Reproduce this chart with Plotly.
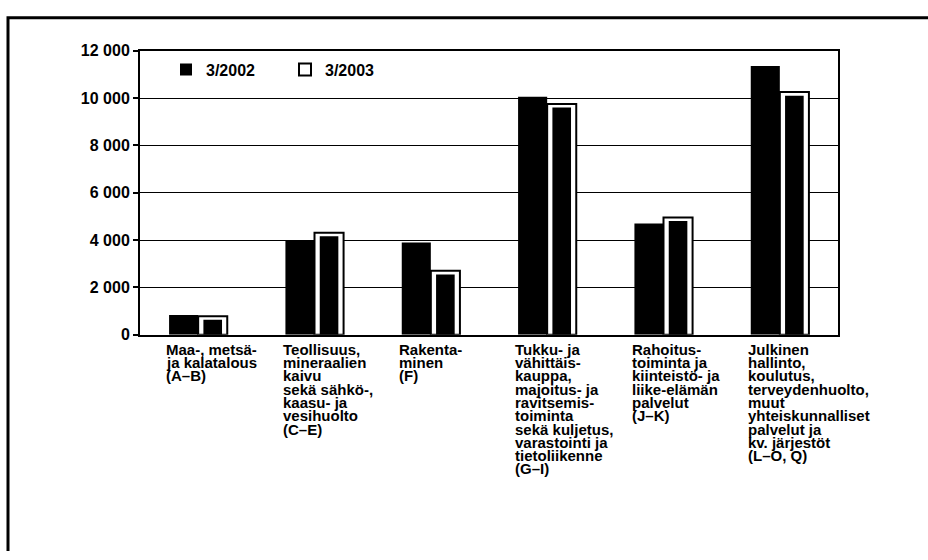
import plotly.graph_objects as go

# ---- data ----
categories = ["A–B", "C–E", "F", "G–I", "J–K", "L–O, Q"]
category_labels = [
    ["Maa-, metsä-", "ja kalatalous", "(A–B)"],
    ["Teollisuus,", "mineraalien", "kaivu", "sekä sähkö-,", "kaasu- ja", "vesihuolto", "(C–E)"],
    ["Rakenta-", "minen", "(F)"],
    ["Tukku- ja", "vähittäis-", "kauppa,", "majoitus- ja", "ravitsemis-", "toiminta",
     "sekä kuljetus,", "varastointi ja", "tietoliikenne", "(G–I)"],
    ["Rahoitus-", "toiminta ja", "kiinteistö- ja", "liike-elämän", "palvelut", "(J–K)"],
    ["Julkinen", "hallinto,", "koulutus,", "terveydenhuolto,", "muut", "yhteiskunnalliset",
     "palvelut ja", "kv. järjestöt", "(L–O, Q)"],
]
values_2002 = [830, 3975, 3900, 10050, 4700, 11350]
values_2003 = [780, 4310, 2700, 9750, 4950, 10250]
series_names = ["3/2002", "3/2003"]
tick_values = [0, 2000, 4000, 6000, 8000, 10000, 12000]
tick_labels = ["0", "2 000", "4 000", "6 000", "8 000", "10 000", "12 000"]

FONT = "Liberation Sans, Arial, sans-serif"
W, H = 928, 560
x_pos = list(range(len(categories)))
inner_drop = 150  # visual inset of the inner fill (data units)

fig = go.Figure()
fig.add_trace(go.Bar(
    x=x_pos, y=values_2002, name=series_names[0],
    width=0.25, offset=-0.25,
    marker=dict(color="black", line=dict(color="black", width=0)),
))
fig.add_trace(go.Bar(
    x=x_pos, y=values_2003, name=series_names[1],
    width=0.25, offset=0.0,
    marker=dict(color="white", line=dict(color="black", width=2)),
))
fig.add_trace(go.Bar(
    x=x_pos, y=[v - inner_drop for v in values_2003], name=series_names[1],
    width=0.16, offset=0.045, showlegend=False,
    marker=dict(color="black", line=dict(width=0)),
))

# outer frame (decoration): left and top edges, on a full-figure overlay axis pair
fig.add_trace(go.Scatter(
    x=[8, 8, W + 20], y=[H + 20, 10, 10], mode="lines",
    line=dict(color="black", width=3), xaxis="x2", yaxis="y2",
    showlegend=False, hoverinfo="skip",
))

annotations = []
for i, lines in enumerate(category_labels):
    for k, line in enumerate(lines):
        annotations.append(dict(
            x=x_pos[i] - 0.29, xref="x", xanchor="left",
            y=0, yref="y", yanchor="top",
            yshift=-(4 + k * 13.3),
            text=line, showarrow=False,
            font=dict(family=FONT, size=15, color="black", weight="bold"),
        ))

plot_left, plot_right, plot_top, plot_bottom = 140, 838, 44, 337
fig.update_layout(
    width=W, height=H,
    margin=dict(l=0, r=0, t=0, b=0),
    paper_bgcolor="white", plot_bgcolor="rgba(0,0,0,0)",
    barmode="overlay",
    showlegend=True,
    hovermode=False,
    legend=dict(
        orientation="h", x=166 / W, y=1 - 46 / H, xanchor="left", yanchor="top",
        font=dict(family=FONT, size=16, color="black", weight="bold"),
        bgcolor="rgba(0,0,0,0)", itemwidth=30,
        entrywidth=74, entrywidthmode="pixels",
    ),
    xaxis=dict(
        domain=[plot_left / W, plot_right / W], anchor="y",
        range=[-0.5, 5.5], showticklabels=False, ticks="",
        showline=True, linecolor="black", linewidth=2, mirror=True,
        showgrid=False, zeroline=False, fixedrange=True,
    ),
    yaxis=dict(
        domain=[1 - plot_bottom / H, 1 - plot_top / H], anchor="x",
        range=[0, 12000], tickvals=tick_values, ticktext=tick_labels,
        ticks="outside", ticklen=5, tickwidth=2, tickcolor="black",
        showline=True, linecolor="black", linewidth=2, mirror=True,
        showgrid=True, gridcolor="black", gridwidth=1,
        zeroline=False, fixedrange=True,
        tickfont=dict(family=FONT, size=16, color="black", weight="bold"),
    ),
    xaxis2=dict(domain=[0, 1], anchor="y2", range=[0, W], visible=False, fixedrange=True),
    yaxis2=dict(domain=[0, 1], anchor="x2", range=[H, 0], visible=False, fixedrange=True),
    annotations=annotations,
)

fig.write_html(
    "out.html",
    config={"displayModeBar": False},
    post_script="document.body.style.margin='0px';document.body.style.overflow='hidden';",
)
